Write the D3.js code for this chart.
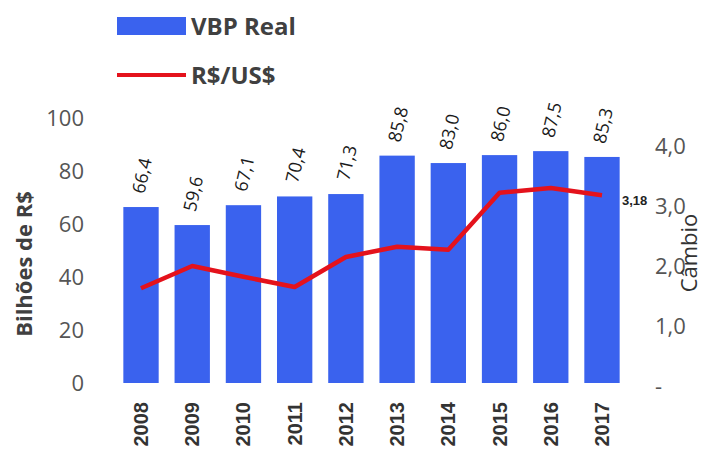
<!DOCTYPE html>
<html>
<head>
<meta charset="utf-8">
<script src="https://cdn.jsdelivr.net/npm/d3@7"></script>
<style>
  body { margin: 0; background: #fff; }
  svg { display: block; font-family: "Open Sans", "Liberation Sans", sans-serif; }
</style>
</head>
<body>
<svg width="705" height="457"></svg>
<script>
const years = ["2008", "2009", "2010", "2011", "2012", "2013", "2014", "2015", "2016", "2017"];
const vbpReal = [66.4, 59.6, 67.1, 70.4, 71.3, 85.8, 83.0, 86.0, 87.5, 85.3];
const cambio = [1.63, 2.0, 1.82, 1.65, 2.15, 2.32, 2.27, 3.22, 3.3, 3.18];
const leftTicks = [0, 20, 40, 60, 80, 100];
const rightTicks = [0, 1, 2, 3, 4];

const svg = d3.select("svg");
const blue = "#3a62ee";
const red = "#e4121c";
const textColor = "#404040";

const comma = (f) => (v) => d3.format(f)(v).replace(".", ",");

const x = d3.scaleBand()
  .domain(years)
  .range([115.4, 627.6])
  .paddingInner(0.31)
  .paddingOuter(0.155);

const yLeft = d3.scaleLinear().domain([0, 100]).range([383, 118]);
const yRight = d3.scaleLinear().domain([0, 4]).range([386, 146]);

const cx = (i) => x(years[i]) + x.bandwidth() / 2;

// bars
svg.append("g")
  .selectAll("rect")
  .data(vbpReal)
  .enter()
  .append("rect")
  .attr("x", (d, i) => x(years[i]))
  .attr("y", (d) => yLeft(d))
  .attr("width", x.bandwidth())
  .attr("height", (d) => yLeft(0) - yLeft(d))
  .attr("fill", blue);

// value labels above bars, tilted
svg.append("g")
  .selectAll("text")
  .data(vbpReal)
  .enter()
  .append("text")
  .attr("transform", (d, i) => `translate(${cx(i) - 3}, ${yLeft(d) - 14}) rotate(-77)`)
  .attr("font-size", 18)
  .attr("fill", "#1a1a1a")
  .attr("dy", "0.35em")
  .text((d) => comma(".1f")(d));

// exchange rate line
const line = d3.line()
  .x((d, i) => cx(i))
  .y((d) => yRight(d));

svg.append("path")
  .datum(cambio)
  .attr("d", line)
  .attr("fill", "none")
  .attr("stroke", red)
  .attr("stroke-width", 4.5)
  .attr("stroke-linejoin", "round");

const last = cambio.length - 1;
svg.append("text")
  .attr("x", cx(last) + 20)
  .attr("y", yRight(cambio[last]) + 5)
  .attr("dy", "0.35em")
  .attr("font-size", 13)
  .attr("font-weight", "bold")
  .attr("font-family", "Liberation Sans, sans-serif")
  .attr("fill", "#222")
  .text(comma(".2f")(cambio[last]));

// left axis
const leftAxis = d3.axisLeft(yLeft).tickValues(leftTicks).tickSize(0).tickPadding(0);
const gl = svg.append("g").attr("transform", "translate(84, 0)").call(leftAxis);
gl.select(".domain").remove();
gl.selectAll("text")
  .attr("font-size", 22)
  .attr("font-family", "Open Sans, sans-serif")
  .attr("fill", "#555");

svg.append("text")
  .attr("transform", "translate(24, 264) rotate(-90)")
  .attr("text-anchor", "middle")
  .attr("dy", "0.35em")
  .attr("font-size", 22)
  .attr("font-weight", "bold")
  .attr("fill", textColor)
  .text("Bilhões de R$");

// right axis
const rightAxis = d3.axisRight(yRight)
  .tickValues(rightTicks)
  .tickSize(0)
  .tickPadding(0)
  .tickFormat((d) => (d === 0 ? "-" : comma(".1f")(d)));
const gr = svg.append("g").attr("transform", "translate(655, 0)").call(rightAxis);
gr.select(".domain").remove();
gr.selectAll("text")
  .attr("font-size", 22)
  .attr("font-family", "Open Sans, sans-serif")
  .attr("fill", "#555");

svg.append("text")
  .attr("transform", "translate(689, 253) rotate(-90)")
  .attr("text-anchor", "middle")
  .attr("dy", "0.35em")
  .attr("font-size", 22)
  .attr("fill", "#333")
  .text("Câmbio");

// x axis year labels
svg.append("g")
  .selectAll("text")
  .data(years)
  .enter()
  .append("text")
  .attr("transform", (d) => `translate(${x(d) + x.bandwidth() / 2}, 402) rotate(-90)`)
  .attr("text-anchor", "end")
  .attr("dy", "0.35em")
  .attr("font-size", 20)
  .attr("font-weight", "bold")
  .attr("font-family", "Liberation Sans, sans-serif")
  .attr("fill", "#333")
  .text((d) => d);

// legend
const legend = svg.append("g");
legend.append("rect")
  .attr("x", 117).attr("y", 17)
  .attr("width", 69).attr("height", 18)
  .attr("fill", blue);
legend.append("text")
  .attr("x", 191).attr("y", 27)
  .attr("dy", "0.35em")
  .attr("font-size", 24)
  .attr("font-weight", "bold")
  .attr("fill", textColor)
  .text("VBP Real");
legend.append("line")
  .attr("x1", 117).attr("x2", 186)
  .attr("y1", 75).attr("y2", 75)
  .attr("stroke", red)
  .attr("stroke-width", 4);
legend.append("text")
  .attr("x", 191).attr("y", 76)
  .attr("dy", "0.35em")
  .attr("font-size", 24)
  .attr("font-weight", "bold")
  .attr("fill", textColor)
  .text("R$/US$");
</script>
</body>
</html>
